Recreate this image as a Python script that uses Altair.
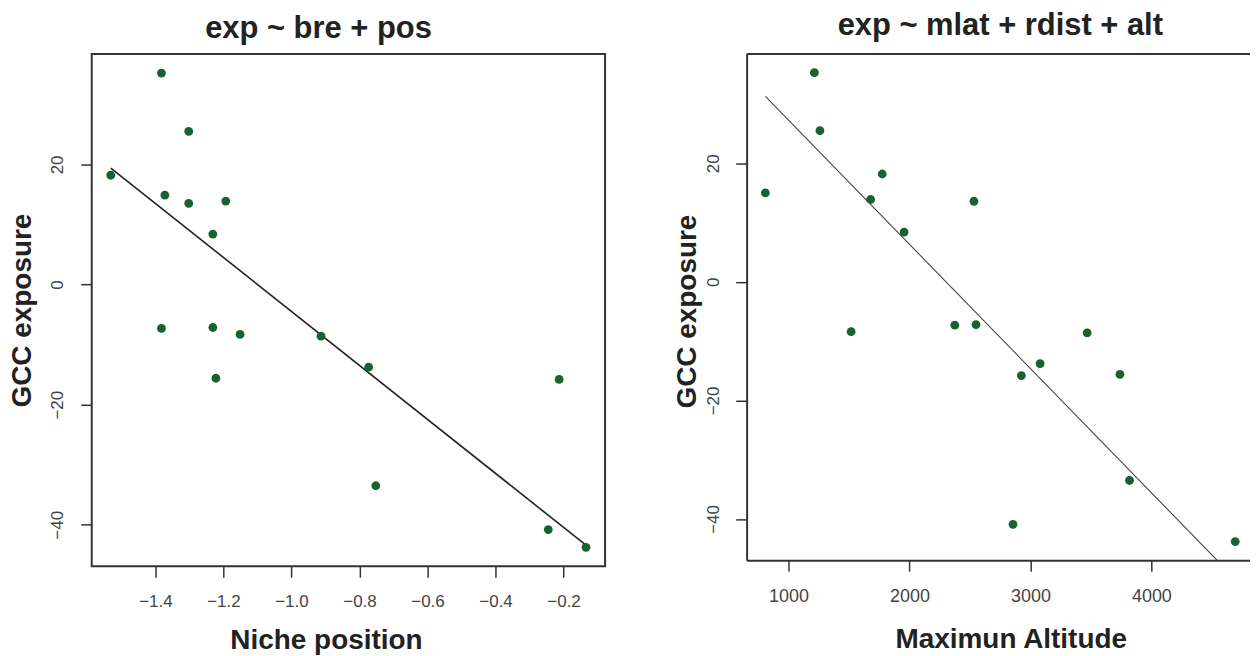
import altair as alt
import pandas as pd

FONT = "Liberation Sans"
GREEN = "#17632f"

# ---- data ----
# left panel: Niche position vs GCC exposure
niche_pos = [-1.531, -1.382, -1.302, -1.372, -1.302, -1.193, -1.231, -1.382, -1.231,
             -1.151, -1.222, -0.913, -0.773, -0.752, -0.213, -0.245, -0.134]
gcc_left = [18.2, 35.2, 25.5, 14.9, 13.5, 13.9, 8.4, -7.3, -7.15,
            -8.3, -15.6, -8.6, -13.75, -33.5, -15.8, -40.8, -43.75]

# right panel: Maximum altitude vs GCC exposure
max_alt = [809, 1214, 1260, 1518, 1679, 1775, 1956, 2375, 2533,
           2550, 2856, 2925, 3080, 3469, 3740, 3819, 4693]
gcc_right = [15.0, 35.3, 25.5, -8.4, 13.9, 18.2, 8.4, -7.3, 13.6,
             -7.2, -40.9, -15.8, -13.8, -8.6, -15.6, -33.5, -43.8]

# fitted lines (end points)
left_fit_x = [-1.531, -0.134]
left_fit_y = [19.4, -43.4]
right_fit_x = [809, 4693]
right_fit_y = [31.3, -50.1]

x_ticks_left = [-1.4, -1.2, -1.0, -0.8, -0.6, -0.4, -0.2]
x_ticks_right = [1000, 2000, 3000, 4000]
y_ticks = [-40, -20, 0, 20]

left_df = pd.DataFrame({"x": niche_pos, "y": gcc_left})
right_df = pd.DataFrame({"x": max_alt, "y": gcc_right})
left_fit = pd.DataFrame({"x": left_fit_x, "y": left_fit_y})
right_fit = pd.DataFrame({"x": right_fit_x, "y": right_fit_y})

LW, LH = 515, 514
RW, RH = 509, 508


def y_axis(title_x, title_y, label_pad, domain):
    return alt.Axis(values=y_ticks, format="d", labelAngle=270, labelAlign="center",
                    labelBaseline="bottom", labelPadding=label_pad, labelFontSize=17,
                    labelColor="#444", labelFont=FONT, labelFlush=False, labelOverlap=False,
                    tickSize=11, tickWidth=1.5, tickColor="#333", grid=False,
                    domain=domain, domainColor="#333", domainWidth=2,
                    title="GCC exposure", titleFontSize=28, titleFontWeight="bold",
                    titleColor="#222", titleFont=FONT, titleAngle=270, titleAlign="center",
                    titleBaseline="middle", titleX=title_x, titleY=title_y)


def x_axis(title, values, fmt, title_x, title_y, domain, label_size, label_expr=None):
    kw = {}
    if label_expr:
        kw["labelExpr"] = label_expr
    return alt.Axis(values=values, format=fmt, labelAngle=0, labelPadding=16,
                    labelFontSize=label_size, labelColor="#444", labelFont=FONT,
                    labelFlush=False, labelOverlap=False,
                    tickSize=11, tickWidth=1.5, tickColor="#333", grid=False,
                    domain=domain, domainColor="#333", domainWidth=2,
                    title=title, titleFontSize=28, titleFontWeight="bold",
                    titleColor="#222", titleFont=FONT, titleAlign="center",
                    titleBaseline="middle", titleX=title_x, titleY=title_y, **kw)


# ---- left panel ----
lx = alt.X("x:Q", scale=alt.Scale(domain=[-1.587, -0.078], zero=False, nice=False),
           axis=x_axis("Niche position", x_ticks_left, ".1f", 235, 75, False, 17))
ly = alt.Y("y:Q", scale=alt.Scale(domain=[-46.9, 38.4], zero=False, nice=False),
           axis=y_axis(-69, LH / 2, 14, False))

left_pts = alt.Chart(left_df).mark_circle(size=78, color=GREEN, opacity=1).encode(x=lx, y=ly)
left_line = alt.Chart(left_fit).mark_line(color="#222", strokeWidth=1.6).encode(x=lx, y=ly)

left = alt.layer(left_line, left_pts).properties(
    width=LW, height=LH,
    title=alt.TitleParams("exp ~ bre + pos", font=FONT, fontSize=31, fontWeight="bold",
                          color="#222", anchor="middle", dx=-30, offset=9),
)

# ---- right panel ----
rx = alt.X("x:Q", scale=alt.Scale(domain=[654, 4848], zero=False, nice=False),
           axis=x_axis("Maximun Altitude", x_ticks_right, "d", 265, 80, True, 18,
                       "'\u00a0\u00a0\u00a0\u00a0' + datum.label"))
ry = alt.Y("y:Q", scale=alt.Scale(domain=[-46.96, 38.46], zero=False, nice=False),
           axis=y_axis(-59, RH / 2 + 4, 13, True))

right_pts = alt.Chart(right_df).mark_circle(size=78, color=GREEN, opacity=1).encode(x=rx, y=ry)
right_line = alt.Chart(right_fit).mark_line(color="#444", strokeWidth=1.1, clip=True).encode(x=rx, y=ry)
top_border = alt.Chart(pd.DataFrame({"b": [0]})).mark_rule(color="#333", strokeWidth=2).encode(
    x=alt.value(0), x2=alt.value(RW), y=alt.value(0))

right = alt.layer(right_line, right_pts, top_border).properties(
    width=RW, height=RH,
    view=alt.ViewBackground(stroke="transparent"),
    title=alt.TitleParams("exp ~ mlat + rdist + alt", font=FONT, fontSize=31, fontWeight="bold",
                          color="#222", anchor="middle", dx=0, offset=11),
)

chart = alt.hconcat(left, right, spacing=67).properties(
    padding={"left": 0, "top": 0, "right": -6, "bottom": 0},
    background="white",
).configure_view(stroke="#333", strokeWidth=2)

chart.save("out.html", embed_options={"renderer": "svg", "actions": False})
